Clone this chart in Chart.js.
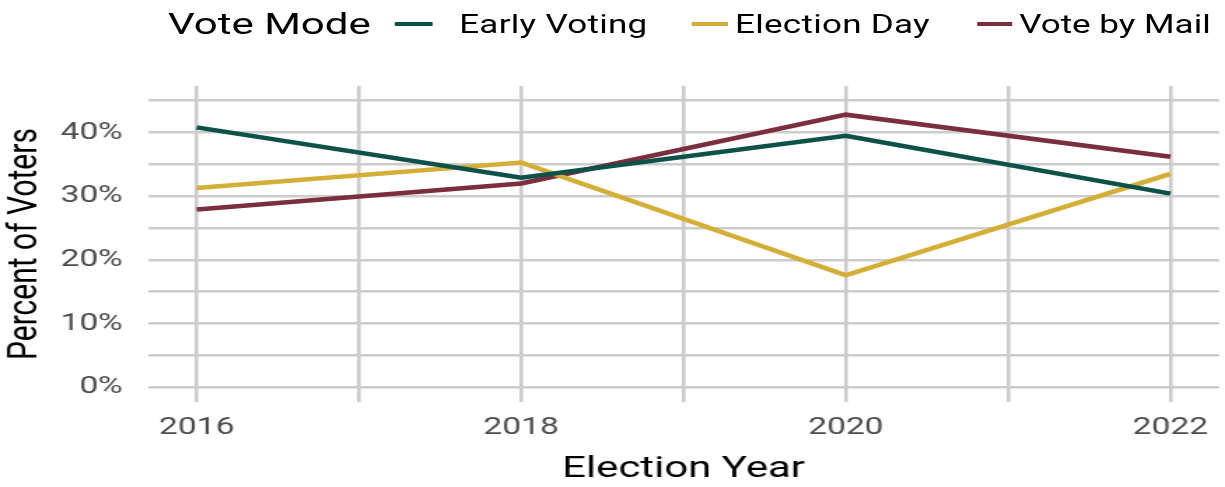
<!DOCTYPE html>
<html>
<head>
<meta charset="utf-8">
<script src="https://cdn.jsdelivr.net/npm/chart.js@4/dist/chart.umd.min.js"></script>
<style>
  html, body { margin: 0; padding: 0; background: #fff; overflow: hidden; }
  #wrap { position: absolute; left: 0; top: 0; width: 875px; height: 487px; transform: scaleX(1.4); transform-origin: 0 0; }
  #c { position: absolute; left: 0; top: 0; width: 875px; height: 487px; }
  .lg { position: absolute; font-family: Roboto, "Liberation Sans", sans-serif; white-space: nowrap; line-height: 1; }
  .sw { position: absolute; height: 4px; }
</style>
</head>
<body>
<div id="wrap">
  <canvas id="c" width="875" height="487"></canvas>
  <div class="lg" style="left:120px; top:9px; font-size:30px; color:#000;">Vote Mode</div>
  <div class="sw" style="left:282px; top:22px; width:27px; background:#0d5248;"></div>
  <div class="lg" style="left:328px; top:12px; font-size:25px; color:#000; letter-spacing:0.2px;">Early Voting</div>
  <div class="sw" style="left:494px; top:22px; width:26px; background:#d4af37;"></div>
  <div class="lg" style="left:525px; top:12px; font-size:25px; color:#000; letter-spacing:0.2px;">Election Day</div>
  <div class="sw" style="left:698px; top:22px; width:25px; background:#7a2e3e;"></div>
  <div class="lg" style="left:728px; top:12px; font-size:25px; color:#000;">Vote by Mail</div>
</div>
<script>
const years = [2016, 2018, 2020, 2022];
const seriesNames = ["Early Voting", "Election Day", "Vote by Mail"];
const earlyVoting = [40.8, 32.9, 39.5, 30.4];
const electionDay = [31.3, 35.3, 17.6, 33.5];
const voteByMail = [27.9, 32.0, 42.8, 36.2];
const seriesColors = ["#0d5248", "#d4af37", "#7a2e3e"];
const yTickValues = [0, 10, 20, 30, 40];

const allSeries = [earlyVoting, electionDay, voteByMail];
const datasets = allSeries.map((vals, i) => ({
  label: seriesNames[i],
  data: years.map((yr, j) => ({ x: yr, y: vals[j] })),
  borderColor: seriesColors[i],
  backgroundColor: seriesColors[i],
  borderWidth: 4.5,
  pointRadius: 0,
  tension: 0,
  fill: false
}));

const gridColor = "#cccccc";
const tickFont = { family: "Roboto, 'Liberation Sans', sans-serif", size: 24 };
const titleFont = { family: "Roboto, 'Liberation Sans', sans-serif", size: 30 };

new Chart(document.getElementById("c"), {
  type: "line",
  data: { datasets },
  options: {
    responsive: false,
    animation: false,
    devicePixelRatio: 1,
    layout: { padding: { top: 86, right: 1.5, bottom: 0, left: 0 } },
    plugins: { legend: { display: false }, tooltip: { enabled: false } },
    scales: {
      x: {
        type: "linear",
        min: 2015.7,
        max: 2022.3,
        border: { display: false },
        grid: { color: gridColor, lineWidth: 2.6, drawTicks: false },
        ticks: {
          stepSize: 1,
          includeBounds: false,
          autoSkip: false,
          maxRotation: 0,
          padding: 12,
          color: "#4d4d4d",
          font: tickFont,
          callback: v => (v % 2 === 0 ? String(v) : "")
        },
        title: { display: true, text: "Election Year", color: "#000", font: titleFont, padding: { top: 4, bottom: 0 } },
        afterFit: s => { s.height = 85; }
      },
      y: {
        type: "linear",
        min: -2.3,
        max: 47.3,
        border: { display: false },
        grid: { color: gridColor, lineWidth: 2.6, drawTicks: false },
        ticks: {
          stepSize: 5,
          includeBounds: false,
          autoSkip: false,
          padding: 18,
          color: "#4d4d4d",
          font: tickFont,
          callback: v => (yTickValues.includes(v) ? v + "%" : "")
        },
        title: { display: true, text: "Percent of Voters", color: "#000", font: titleFont, padding: { top: 0, bottom: 0 } },
        afterFit: s => { s.width = 105.7; }
      }
    }
  }
});
</script>
</body>
</html>
